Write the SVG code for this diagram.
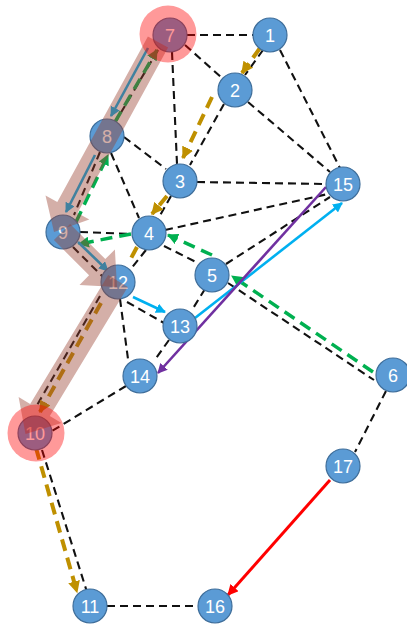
<svg xmlns="http://www.w3.org/2000/svg" width="407" height="626" viewBox="0 0 407 626">
  <style>
    .edge { stroke: #111111; stroke-width: 2.1; stroke-dasharray: 8 5; fill: none; }
    .gold { stroke: #BF9000; stroke-width: 4; stroke-dasharray: 12 7; fill: none; marker-end: url(#ah-gold); }
    .green { stroke: #00B050; stroke-width: 3.5; stroke-dasharray: 12 7; fill: none; marker-end: url(#ah-green); }
    .blue { stroke: #00B0F0; stroke-width: 2.6; fill: none; marker-end: url(#ah-blue); }
    .purple { stroke: #7030A0; stroke-width: 2.6; fill: none; marker-end: url(#ah-purple); }
    .red { stroke: #FF0000; stroke-width: 3; fill: none; marker-end: url(#ah-red); }
    .node circle { fill: #5B9BD5; stroke: #3F6E9A; stroke-width: 1.2; }
    .node text { fill: #ffffff; font-family: "Liberation Sans", Arial, sans-serif; font-size: 18px; text-anchor: middle; }
    .band { fill: #984030; fill-opacity: 0.42; }
    .halo { fill: #FF0000; fill-opacity: 0.4; }
  </style>
  <defs>
    <marker id="ah-gold" viewBox="0 0 10 10" refX="9" refY="5" markerWidth="12" markerHeight="12" markerUnits="userSpaceOnUse" orient="auto"><path d="M0,0L10,5L0,10z" fill="#BF9000"/></marker>
    <marker id="ah-green" viewBox="0 0 10 10" refX="9" refY="5" markerWidth="11" markerHeight="11" markerUnits="userSpaceOnUse" orient="auto"><path d="M0,0L10,5L0,10z" fill="#00B050"/></marker>
    <marker id="ah-blue" viewBox="0 0 10 10" refX="9" refY="5" markerWidth="10" markerHeight="10" markerUnits="userSpaceOnUse" orient="auto"><path d="M0,0L10,5L0,10z" fill="#00B0F0"/></marker>
    <marker id="ah-purple" viewBox="0 0 10 10" refX="9" refY="5" markerWidth="10" markerHeight="10" markerUnits="userSpaceOnUse" orient="auto"><path d="M0,0L10,5L0,10z" fill="#7030A0"/></marker>
    <marker id="ah-red" viewBox="0 0 10 10" refX="9" refY="5" markerWidth="11" markerHeight="11" markerUnits="userSpaceOnUse" orient="auto"><path d="M0,0L10,5L0,10z" fill="#FF0000"/></marker>
  </defs>

  <g id="connectors">
    <!-- undirected dashed edges -->
    <g id="edges">
      <line class="edge" x1="187" y1="35" x2="253" y2="35"/>
      <line class="edge" x1="185" y1="45" x2="222" y2="78"/>
      <line class="edge" x1="172" y1="52" x2="177" y2="164"/>
      <line class="edge" x1="158" y1="50" x2="116" y2="121"/>
      <line class="edge" x1="263" y1="50" x2="245" y2="75"/>
      <line class="edge" x1="280" y1="50" x2="340" y2="168"/>
      <line class="edge" x1="248" y1="102" x2="330" y2="172"/>
      <line class="edge" x1="224" y1="104" x2="190" y2="165"/>
      <line class="edge" x1="124" y1="137" x2="166" y2="169"/>
      <line class="edge" x1="111" y1="153" x2="139" y2="218"/>
      <line class="edge" x1="100" y1="152" x2="74" y2="215"/>
      <line class="edge" x1="171" y1="196" x2="158" y2="219"/>
      <line class="edge" x1="197" y1="182" x2="326" y2="184"/>
      <line class="edge" x1="80" y1="232" x2="132" y2="234"/>
      <line class="edge" x1="165" y1="230" x2="328" y2="194"/>
      <line class="edge" x1="164" y1="246" x2="198" y2="263"/>
      <line class="edge" x1="228" y1="283" x2="374" y2="380"/>
      <line class="edge" x1="226" y1="264" x2="330" y2="197"/>
      <line class="edge" x1="205" y1="289" x2="192" y2="310"/>
      <line class="edge" x1="146" y1="250" x2="130" y2="270"/>
      <line class="edge" x1="73" y1="247" x2="103" y2="277"/>
      <line class="edge" x1="127" y1="302" x2="164" y2="323"/>
      <line class="edge" x1="120" y1="299" x2="128" y2="359"/>
      <line class="edge" x1="169" y1="340" x2="154" y2="361"/>
      <line class="edge" x1="126" y1="386" x2="52" y2="431"/>
      <line class="edge" x1="100" y1="296" x2="36" y2="407"/>
      <line class="edge" x1="42" y1="450" x2="87" y2="592"/>
      <line class="edge" x1="107" y1="606" x2="198" y2="606"/>
      <line class="edge" x1="386" y1="391" x2="355" y2="452"/>
    </g>
    <!-- gold route 1-2-3-4-12-10-11 -->
    <g id="route-gold">
      <line class="gold" x1="260" y1="48" x2="242" y2="73"/>
      <line class="gold" x1="212" y1="97" x2="183" y2="158"/>
      <line class="gold" x1="167" y1="196" x2="152" y2="214"/>
      <line class="gold" x1="137" y1="247" x2="129" y2="262" style="marker-end:none"/>
      <line class="gold" x1="101" y1="303" x2="40" y2="412"/>
      <line class="gold" x1="36" y1="448" x2="77" y2="592"/>
    </g>
    <!-- green route 6-5-4-9-8-7 -->
    <g id="route-green">
      <line class="green" x1="373" y1="372" x2="232" y2="276"/>
      <line class="green" x1="212" y1="255" x2="168" y2="235"/>
      <line class="green" x1="131" y1="234" x2="79" y2="244"/>
      <line class="green" x1="76" y1="222" x2="108" y2="155"/>
      <line class="green" x1="115" y1="122" x2="157" y2="50"/>
    </g>
    <!-- blue route 7-8-9-12-13-15 -->
    <g id="route-blue">
      <line class="blue" x1="148" y1="48" x2="111" y2="116"/>
      <line class="blue" x1="95" y1="155" x2="66" y2="212"/>
      <line class="blue" x1="78" y1="242" x2="108" y2="271"/>
      <line class="blue" x1="133" y1="297" x2="165" y2="312"/>
      <line class="blue" x1="195" y1="318" x2="342" y2="203"/>
    </g>
    <line id="route-purple" class="purple" x1="326" y1="187" x2="158" y2="373"/>
    <line id="route-red" class="red" x1="330" y1="480" x2="228" y2="595"/>
  </g>

  <g id="nodes">
    <g id="n1" class="node"><circle cx="270" cy="35" r="17"/><text x="270" y="41.5">1</text></g>
    <g id="n2" class="node"><circle cx="235" cy="90" r="17"/><text x="235" y="96.5">2</text></g>
    <g id="n3" class="node"><circle cx="180" cy="181" r="17"/><text x="180" y="187.5">3</text></g>
    <g id="n4" class="node"><circle cx="149" cy="233" r="17"/><text x="149" y="239.5">4</text></g>
    <g id="n5" class="node"><circle cx="212" cy="275" r="17"/><text x="212" y="281.5">5</text></g>
    <g id="n6" class="node"><circle cx="393" cy="375" r="17"/><text x="393" y="381.5">6</text></g>
    <g id="n7" class="node"><circle cx="170" cy="35" r="17"/><text x="170" y="41.5">7</text></g>
    <g id="n8" class="node"><circle cx="107" cy="136" r="17"/><text x="107" y="142.5">8</text></g>
    <g id="n9" class="node"><circle cx="63" cy="232" r="17"/><text x="63" y="238.5">9</text></g>
    <g id="n10" class="node"><circle cx="35" cy="433" r="17"/><text x="35" y="439.5">10</text></g>
    <g id="n11" class="node"><circle cx="90" cy="606" r="17"/><text x="90" y="612.5">11</text></g>
    <g id="n12" class="node"><circle cx="118" cy="282" r="17"/><text x="118" y="288.5">12</text></g>
    <g id="n13" class="node"><circle cx="180" cy="326" r="17"/><text x="180" y="332.5">13</text></g>
    <g id="n14" class="node"><circle cx="140" cy="376" r="17"/><text x="140" y="382.5">14</text></g>
    <g id="n15" class="node"><circle cx="343" cy="184" r="17"/><text x="343" y="190.5">15</text></g>
    <g id="n16" class="node"><circle cx="215" cy="606" r="17"/><text x="215" y="612.5">16</text></g>
    <g id="n17" class="node"><circle cx="343" cy="466" r="17"/><text x="343" y="472.5">17</text></g>
  </g>

  <!-- translucent highlighted path 7 -> 9 -> 12 -> 10 -->
  <g id="highlight-path">
    <polygon class="band" points="168.1,47.5 77.5,212.9 89.3,219.4 54,232 45.5,195.4 57.3,201.9 147.9,36.5"/>
    <polygon class="band" points="70.1,223.9 105.3,259.1 114.9,249.5 117,287 79.5,284.9 89.1,275.3 53.9,240.1"/>
    <polygon class="band" points="127.8,287 49.8,416 61.4,423 25.5,434 18.6,397 30.2,404 108.2,275"/>
  </g>

  <!-- endpoint halos -->
  <g id="halos">
    <circle class="halo" cx="168" cy="34" r="28.5"/>
    <circle class="halo" cx="36" cy="433" r="28.5"/>
  </g>
</svg>
